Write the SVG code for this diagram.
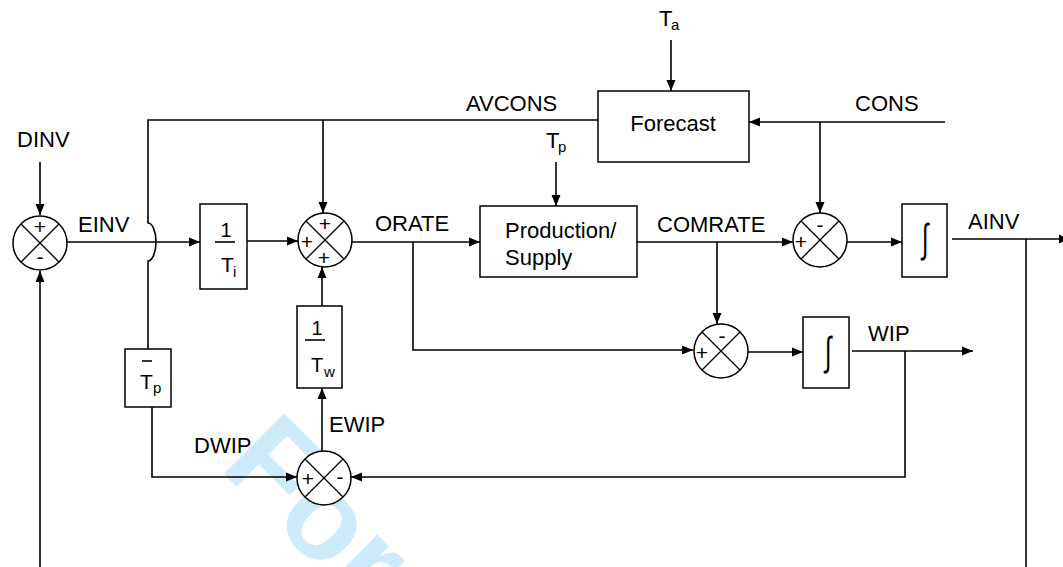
<svg xmlns="http://www.w3.org/2000/svg" width="1063" height="567" viewBox="0 0 1063 567">
<style>
text{font-family:"Liberation Sans",Arial,sans-serif;fill:#000}
.lbl{font-size:22px}
.sub{font-size:15px}
.sgn{font-size:21px;text-anchor:middle}
.box{fill:#fff;stroke:#000;stroke-width:1.5}
.sum{fill:#fff;stroke:#000;stroke-width:1.5}
.x{stroke:#000;stroke-width:1.3}
.c{fill:none;stroke:#000;stroke-width:1.6}
.int{font-size:40px;text-anchor:middle}
.wm{font-family:"Liberation Sans",Arial,sans-serif;font-weight:bold;font-size:124px;fill:#cdebfa}
</style>
<defs>
<marker id="ah" markerUnits="userSpaceOnUse" markerWidth="12" markerHeight="10" refX="11" refY="5" orient="auto">
<path d="M0,0.5 L11,5 L0,9.5 z" fill="#000"/>
</marker>
<g id="sx">
<line class="x" x1="-19" y1="-19" x2="19" y2="19"/>
<line class="x" x1="-19" y1="19" x2="19" y2="-19"/>
</g>
</defs>
<rect width="1063" height="567" fill="#fff"/>
<text class="wm" transform="translate(218,468) rotate(45)">For</text>

<g id="connectors">
<path class="c" d="M40,162 L40,215" marker-end="url(#ah)"/>
<path class="c" d="M67,242 L200,242" marker-end="url(#ah)"/>
<path class="c" d="M598,120 L148,120 L148,223 A8,19 0 0 1 148,261 L148,349"/>
<path class="c" d="M323,120 L323,213" marker-end="url(#ah)"/>
<path class="c" d="M247,241 L298,241" marker-end="url(#ah)"/>
<path class="c" d="M352,242 L480,242" marker-end="url(#ah)"/>
<path class="c" d="M413,242 L413,350 L693,350" marker-end="url(#ah)"/>
<path class="c" d="M671,40 L671,91" marker-end="url(#ah)"/>
<path class="c" d="M556,162 L556,206" marker-end="url(#ah)"/>
<path class="c" d="M945,122 L749,122" marker-end="url(#ah)"/>
<path class="c" d="M820,122 L820,213" marker-end="url(#ah)"/>
<path class="c" d="M637,242 L793,242" marker-end="url(#ah)"/>
<path class="c" d="M717,242 L717,324" marker-end="url(#ah)"/>
<path class="c" d="M847,242 L902,242" marker-end="url(#ah)"/>
<path class="c" d="M952,239 L1070,239" marker-end="url(#ah)"/>
<path class="c" d="M1026,239 L1026,567"/>
<path class="c" d="M40,567 L40,271" marker-end="url(#ah)"/>
<path class="c" d="M748,352 L803,352" marker-end="url(#ah)"/>
<path class="c" d="M852,351 L973,351" marker-end="url(#ah)"/>
<path class="c" d="M905,351 L905,477 L351,477" marker-end="url(#ah)"/>
<path class="c" d="M152,407 L152,477 L297,477" marker-end="url(#ah)"/>
<path class="c" d="M322,451 L322,388" marker-end="url(#ah)"/>
<path class="c" d="M322,306 L322,267" marker-end="url(#ah)"/>
</g>

<g id="S1">
<circle class="sum" cx="40" cy="243" r="27"/>
<use href="#sx" x="40" y="243"/>
<text class="sgn" x="40" y="234">+</text>
<text class="sgn" x="40" y="264">-</text>
</g>
<g id="S2">
<circle class="sum" cx="325" cy="240" r="27"/>
<use href="#sx" x="325" y="240"/>
<text class="sgn" x="325" y="231">+</text>
<text class="sgn" x="307" y="249">+</text>
<text class="sgn" x="324" y="265">+</text>
</g>
<g id="S5">
<circle class="sum" cx="820" cy="240" r="27"/>
<use href="#sx" x="820" y="240"/>
<text class="sgn" x="820" y="232">-</text>
<text class="sgn" x="801" y="249">+</text>
</g>
<g id="S6">
<circle class="sum" cx="721" cy="351" r="27"/>
<use href="#sx" x="721" y="351"/>
<text class="sgn" x="722" y="343">-</text>
<text class="sgn" x="702" y="360">+</text>
</g>
<g id="S4">
<circle class="sum" cx="324" cy="478" r="27"/>
<use href="#sx" x="324" y="478"/>
<text class="sgn" x="308" y="486">+</text>
<text class="sgn" x="340" y="484">-</text>
</g>

<g id="Ti">
<rect class="box" x="200" y="204" width="47" height="85"/>
<text x="226" y="237" font-size="20" text-anchor="middle">1</text>
<line x1="215" y1="242" x2="235" y2="242" stroke="#000" stroke-width="1.6"/>
<text x="221" y="272" font-size="21">T</text>
<text x="233" y="277" class="sub">i</text>
</g>
<g id="Tw">
<rect class="box" x="297" y="306" width="45" height="82"/>
<text x="317" y="335" font-size="20" text-anchor="middle">1</text>
<line x1="305" y1="340" x2="325" y2="340" stroke="#000" stroke-width="1.6"/>
<text x="311" y="372" font-size="20">T</text>
<text x="324" y="377" class="sub">w</text>
</g>
<g id="Tp">
<rect class="box" x="125" y="349" width="46" height="58"/>
<line x1="142" y1="361" x2="152" y2="361" stroke="#000" stroke-width="1.6"/>
<text x="140" y="389" font-size="21">T</text>
<text x="153" y="393" class="sub">p</text>
</g>
<g id="Forecast">
<rect class="box" x="598" y="91" width="151" height="71"/>
<text class="lbl" x="673" y="131" text-anchor="middle">Forecast</text>
</g>
<g id="Production">
<rect class="box" x="480" y="206" width="157" height="71"/>
<text class="lbl" x="505" y="238">Production/</text>
<text class="lbl" x="505" y="265">Supply</text>
</g>
<g id="Int1">
<rect class="box" x="902" y="204" width="45" height="73"/>
<text class="int" transform="translate(925,252) scale(0.6,1)">∫</text>
</g>
<g id="Int2">
<rect class="box" x="803" y="317" width="46" height="71"/>
<text class="int" transform="translate(828,365) scale(0.6,1)">∫</text>
</g>

<g id="labels">
<text class="lbl" x="17" y="147">DINV</text>
<text class="lbl" x="78" y="232">EINV</text>
<text class="lbl" x="466" y="111">AVCONS</text>
<text class="lbl" x="659" y="26">T</text>
<text class="sub" x="671" y="30">a</text>
<text class="lbl" x="546" y="148">T</text>
<text class="sub" x="558" y="152">p</text>
<text class="lbl" x="855" y="111">CONS</text>
<text class="lbl" x="375" y="231">ORATE</text>
<text class="lbl" x="657" y="232">COMRATE</text>
<text class="lbl" x="968" y="229">AINV</text>
<text class="lbl" x="868" y="341">WIP</text>
<text class="lbl" x="329" y="432">EWIP</text>
<text class="lbl" x="194" y="453">DWIP</text>
</g>
</svg>
